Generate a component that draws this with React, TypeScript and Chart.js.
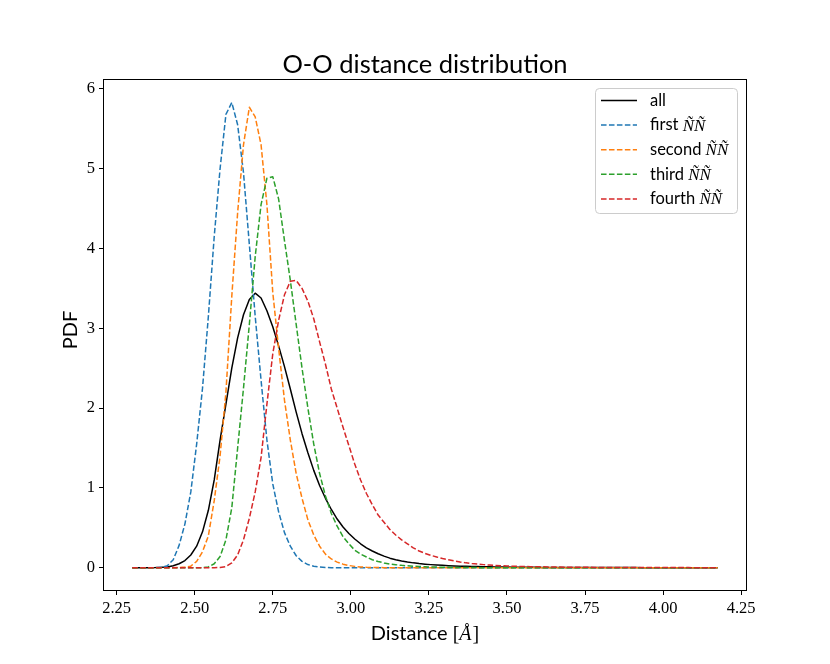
import React, { useEffect, useRef } from "react";
import { Chart, registerables } from "chart.js";

Chart.register(...registerables);

// bin centres of the histogram (Å)
const distances = [
  2.3, 2.31875, 2.3375, 2.35625, 2.375, 2.39375, 2.4125, 2.43125, 2.45, 2.46875,
  2.4875, 2.50625, 2.525, 2.54375, 2.5625, 2.58125, 2.6, 2.61875, 2.6375, 2.65625,
  2.675, 2.69375, 2.7125, 2.73125, 2.75, 2.76875, 2.7875, 2.80625, 2.825, 2.84375,
  2.8625, 2.88125, 2.9, 2.91875, 2.9375, 2.95625, 2.975, 2.99375, 3.0125, 3.03125,
  3.05, 3.06875, 3.0875, 3.10625, 3.125, 3.14375, 3.1625, 3.18125, 3.2, 3.21875,
  3.2375, 3.25625, 3.275, 3.29375, 3.3125, 3.33125, 3.35, 3.36875, 3.3875, 3.40625,
  3.425, 3.44375, 3.4625, 3.48125, 3.5, 3.51875, 3.5375, 3.55625, 3.575, 3.59375,
  3.6125, 3.63125, 3.65, 3.66875, 3.6875, 3.70625, 3.725, 3.74375, 3.7625, 3.78125,
  3.8, 3.81875, 3.8375, 3.85625, 3.875, 3.89375, 3.9125, 3.93125, 3.95, 3.96875,
  3.9875, 4.00625, 4.025, 4.04375, 4.0625, 4.08125, 4.1, 4.11875, 4.1375, 4.15625,
  4.175,
];

const allPairs = [
  0, 0, 0, 0.001, 0.002, 0.005, 0.01, 0.025, 0.05, 0.09,
  0.16, 0.27, 0.45, 0.72, 1.1, 1.6, 2.05, 2.5, 2.88, 3.17,
  3.36, 3.44, 3.38, 3.22, 3.02, 2.78, 2.52, 2.24, 1.95, 1.68,
  1.44, 1.22, 1.03, 0.87, 0.73, 0.61, 0.51, 0.43, 0.36, 0.3,
  0.25, 0.21, 0.175, 0.145, 0.12, 0.1, 0.085, 0.072, 0.061, 0.052,
  0.045, 0.039, 0.034, 0.03, 0.026, 0.023, 0.02, 0.018, 0.016, 0.014,
  0.012, 0.011, 0.01, 0.009, 0.008, 0.007, 0.0065, 0.006, 0.0055, 0.005,
  0.0045, 0.004, 0.004, 0.0035, 0.003, 0.003, 0.003, 0.0025, 0.0025, 0.002,
  0.002, 0.002, 0.002, 0.0018, 0.0016, 0.0015, 0.0014, 0.0013, 0.0012, 0.0011,
  0.001, 0.001, 0.0009, 0.0008, 0.0008, 0.0007, 0.0006, 0.0006, 0.0005, 0.0005,
  0.0004,
];

const firstNN = [
  0, 0, 0, 0, 0, 0.005, 0.025, 0.1, 0.28, 0.55,
  0.95, 1.55, 2.25, 3.15, 4.15, 5.0, 5.68, 5.83, 5.55, 4.95,
  4.05, 3.15, 2.35, 1.6, 1.05, 0.7, 0.44, 0.27, 0.15, 0.08,
  0.04, 0.018, 0.008, 0.003, 0.001, 0, 0, 0, 0, 0,
  0, 0, 0, 0, 0, 0, 0, 0, 0, 0,
  0, 0, 0, 0, 0, 0, 0, 0, 0, 0,
  0, 0, 0, 0, 0, 0, 0, 0, 0, 0,
  0, 0, 0, 0, 0, 0, 0, 0, 0, 0,
  0, 0, 0, 0, 0, 0, 0, 0, 0, 0,
  0, 0, 0, 0, 0, 0, 0, 0, 0, 0,
  0,
];

const secondNN = [
  0, 0, 0, 0, 0, 0, 0, 0, 0.002, 0.008,
  0.02, 0.08, 0.2, 0.4, 0.84, 1.4, 2.2, 3.4, 4.45, 5.3,
  5.77, 5.65, 5.3, 4.55, 3.45, 2.75, 2.1, 1.6, 1.18, 0.87,
  0.6, 0.41, 0.27, 0.17, 0.11, 0.07, 0.045, 0.028, 0.017, 0.01,
  0.006, 0.004, 0.002, 0.001, 0, 0, 0, 0, 0, 0,
  0, 0, 0, 0, 0, 0, 0, 0, 0, 0,
  0, 0, 0, 0, 0, 0, 0, 0, 0, 0,
  0, 0, 0, 0, 0, 0, 0, 0, 0, 0,
  0, 0, 0, 0, 0, 0, 0, 0, 0, 0,
  0, 0, 0, 0, 0, 0, 0, 0, 0, 0,
  0,
];

const thirdNN = [
  0, 0, 0, 0, 0, 0, 0, 0, 0, 0,
  0, 0, 0, 0.01, 0.05, 0.14, 0.35, 0.75, 1.5, 2.25,
  3.05, 3.9, 4.55, 4.88, 4.9, 4.62, 4.1, 3.6, 3.05, 2.5,
  2.0, 1.55, 1.18, 0.9, 0.68, 0.52, 0.39, 0.3, 0.22, 0.17,
  0.135, 0.1, 0.078, 0.06, 0.047, 0.038, 0.03, 0.024, 0.019, 0.015,
  0.012, 0.01, 0.008, 0.006, 0.005, 0.004, 0.003, 0.0025, 0.002, 0.0015,
  0.001, 0.001, 0.0008, 0.0006, 0.0005, 0.0004, 0.0003, 0.0002, 0.0002, 0.0001,
  0, 0, 0, 0, 0, 0, 0, 0, 0, 0,
  0, 0, 0, 0, 0, 0, 0, 0, 0, 0,
  0, 0, 0, 0, 0, 0, 0, 0, 0, 0,
  0,
];

const fourthNN = [
  0, 0, 0, 0, 0, 0, 0, 0, 0, 0,
  0, 0, 0, 0, 0, 0.003, 0.015, 0.06, 0.16, 0.35,
  0.62, 0.95, 1.38, 2.05, 2.68, 3.1, 3.42, 3.59, 3.6, 3.5,
  3.34, 3.12, 2.83, 2.55, 2.24, 2.0, 1.76, 1.53, 1.3, 1.1,
  0.93, 0.79, 0.66, 0.57, 0.48, 0.41, 0.35, 0.3, 0.25, 0.21,
  0.18, 0.155, 0.135, 0.115, 0.1, 0.085, 0.072, 0.061, 0.052, 0.045,
  0.039, 0.034, 0.029, 0.025, 0.022, 0.019, 0.017, 0.015, 0.013, 0.012,
  0.011, 0.01, 0.009, 0.008, 0.007, 0.0065, 0.006, 0.0055, 0.005, 0.0045,
  0.004, 0.0038, 0.0035, 0.0032, 0.003, 0.0028, 0.0026, 0.0024, 0.0022, 0.002,
  0.0019, 0.0018, 0.0017, 0.0016, 0.0015, 0.0014, 0.0013, 0.0012, 0.0011, 0.001,
  0.001,
];

const xTicks = [2.25, 2.5, 2.75, 3.0, 3.25, 3.5, 3.75, 4.0, 4.25];
const yTicks = [0, 1, 2, 3, 4, 5, 6];

const seriesNames = ["all", "first", "second", "third", "fourth"];
const seriesColors = ["#000000", "#1f77b4", "#ff7f0e", "#2ca02c", "#d62728"];
const seriesValues = [allPairs, firstNN, secondNN, thirdNN, fourthNN];

const SANS = "Lato";
const SERIF = "'Liberation Serif'";
const DASH = [5.55, 2.4];

// title, axis labels, frame and legend (mixed fonts, so drawn by hand)
const decorations = {
  id: "decorations",
  afterDraw(chart: any) {
    const { ctx, chartArea: a } = chart;
    ctx.save();

    ctx.strokeStyle = "#000";
    ctx.lineWidth = 1;
    ctx.setLineDash([]);
    ctx.strokeRect(Math.round(a.left) + 0.5, Math.round(a.top) + 0.5, Math.round(a.right - a.left) - 1, Math.round(a.bottom - a.top) - 1);

    ctx.fillStyle = "#000";
    ctx.textBaseline = "alphabetic";

    // title
    ctx.textAlign = "center";
    ctx.font = `25.5px ${SANS}`;
    ctx.fillText("O-O distance distribution", (a.left + a.right) / 2, 73);

    // x label: "Distance [Å]"
    const cx = (a.left + a.right) / 2;
    ctx.textAlign = "left";
    const p1 = "Distance ";
    ctx.font = `20px ${SANS}`;
    const w1 = ctx.measureText(p1).width;
    ctx.font = `20px ${SERIF}`;
    const wb = ctx.measureText("[").width;
    ctx.font = `italic 20px ${SERIF}`;
    const wa = ctx.measureText("Å").width;
    const total = w1 + wb * 2 + wa + 1;
    let x = cx - total / 2;
    const by = 640;
    ctx.font = `20px ${SANS}`;
    ctx.fillText(p1, x, by);
    x += w1;
    ctx.font = `20px ${SERIF}`;
    ctx.fillText("[", x, by);
    x += wb;
    ctx.font = `italic 20px ${SERIF}`;
    ctx.fillText("Å", x, by);
    x += wa + 1;
    ctx.font = `20px ${SERIF}`;
    ctx.fillText("]", x, by);

    // y label
    ctx.save();
    ctx.translate(77, (a.top + a.bottom) / 2 - 5);
    ctx.rotate(-Math.PI / 2);
    ctx.textAlign = "center";
    ctx.font = `20px ${SANS}`;
    ctx.fillText("PDF", 0, 0);
    ctx.restore();

    // legend
    const lx = 595.5, ly = 88.5, lw = 142, lh = 125, r = 4;
    ctx.beginPath();
    ctx.moveTo(lx + r, ly);
    ctx.arcTo(lx + lw, ly, lx + lw, ly + lh, r);
    ctx.arcTo(lx + lw, ly + lh, lx, ly + lh, r);
    ctx.arcTo(lx, ly + lh, lx, ly, r);
    ctx.arcTo(lx, ly, lx + lw, ly, r);
    ctx.closePath();
    ctx.fillStyle = "rgba(255,255,255,0.8)";
    ctx.fill();
    ctx.strokeStyle = "#cccccc";
    ctx.stroke();

    seriesNames.forEach((name, i) => {
      const rowY = 100.5 + i * 24.6;
      ctx.strokeStyle = seriesColors[i];
      ctx.lineWidth = 1.5;
      ctx.setLineDash(i === 0 ? [] : DASH);
      ctx.beginPath();
      ctx.moveTo(601, rowY);
      ctx.lineTo(637, rowY);
      ctx.stroke();
      ctx.setLineDash([]);

      ctx.fillStyle = "#000";
      ctx.textAlign = "left";
      ctx.textBaseline = "middle";
      ctx.font = `16.5px ${SANS}`;
      ctx.fillText(name, 650, rowY);
      if (i > 0) {
        const nw = ctx.measureText(name + " ").width;
        ctx.font = `italic 17px ${SERIF}`;
        ctx.fillText("ÑÑ", 650 + nw, rowY + 1);
      }
    });

    ctx.restore();
  },
};

export default function App() {
  const canvasRef = useRef<HTMLCanvasElement>(null);

  useEffect(() => {
    document.body.style.margin = "0";
    if (!canvasRef.current) return;

    const datasets = seriesValues.map((vals, k) => ({
      label: seriesNames[k],
      data: distances.map((d, i) => ({ x: d, y: vals[i] })),
      borderColor: seriesColors[k],
      borderWidth: 1.5,
      borderDash: k === 0 ? [] : DASH,
      borderJoinStyle: "round" as const,
      pointRadius: 0,
      fill: false,
      tension: 0,
      order: 5 - k,
    }));

    const chart = new Chart(canvasRef.current, {
      type: "line",
      data: { datasets },
      options: {
        animation: false,
        responsive: false,
        devicePixelRatio: 1,
        layout: { padding: { left: 0, top: 79, right: 83, bottom: 0 } },
        plugins: {
          legend: { display: false },
          title: { display: false },
          tooltip: { enabled: false },
        },
        scales: {
          x: {
            type: "linear",
            min: 2.2063,
            max: 4.2688,
            afterFit: (s: any) => { s.height = 73; },
            afterBuildTicks: (s: any) => { s.ticks = xTicks.map((v) => ({ value: v })); },
            border: { display: false },
            grid: { display: true, drawOnChartArea: false, drawTicks: true, tickLength: 4, color: "#000" },
            ticks: {
              color: "#000",
              padding: 4,
              maxRotation: 0,
              font: { family: "Liberation Serif", size: 16.5 },
              callback: (v: any) => Number(v).toFixed(2),
            },
          },
          y: {
            type: "linear",
            min: -0.2915,
            max: 6.124,
            afterFit: (s: any) => { s.width = 103; },
            afterBuildTicks: (s: any) => { s.ticks = yTicks.map((v) => ({ value: v })); },
            border: { display: false },
            grid: { display: true, drawOnChartArea: false, drawTicks: true, tickLength: 4, color: "#000" },
            ticks: {
              color: "#000",
              padding: 4,
              font: { family: "Liberation Serif", size: 16.5 },
              callback: (v: any) => String(v),
            },
          },
        },
      },
      plugins: [decorations],
    });

    return () => chart.destroy();
  }, []);

  return (
    <div style={{ position: "relative", width: 830, height: 664, background: "#fff" }}>
      <canvas ref={canvasRef} width={830} height={664} style={{ display: "block" }} />
    </div>
  );
}
